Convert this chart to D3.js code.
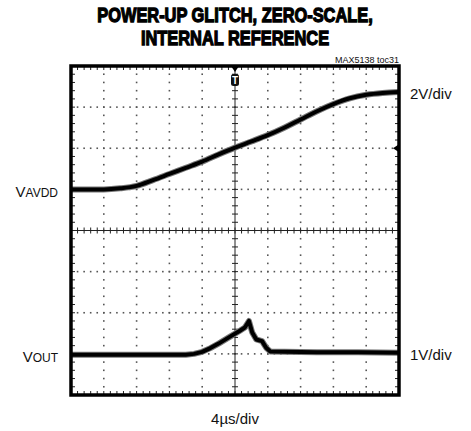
<!DOCTYPE html>
<html>
<head>
<meta charset="utf-8">
<script src="https://cdn.jsdelivr.net/npm/d3@7"></script>
<style>
  body { margin: 0; background: #fff; }
  text { font-family: "Liberation Sans Narrow", "Arial Narrow", "Liberation Sans", sans-serif; fill: #111; }
</style>
</head>
<body>
<svg id="chart" width="471" height="431"></svg>
<script>
// scope capture, values
var titleLines = ["POWER-UP GLITCH, ZERO-SCALE,", "INTERNAL REFERENCE"];
var tocLabel = "MAX5138 toc31";

// VAVDD trace, 2V/div (time in us)
var avddTime  = [0, 2, 4, 6, 8, 10, 12, 14, 16, 18, 20, 22, 24, 26, 28, 30, 32, 34, 36, 38, 40];
var avddVolts = [0, 0, 0, 0.05, 0.17, 0.45, 0.75, 1.05, 1.35, 1.7, 2.03, 2.33, 2.64, 3.0, 3.4, 3.8, 4.15, 4.43, 4.6, 4.69, 4.73];

// VOUT trace, 1V/div
var outTime  = [0, 4, 8, 12, 14, 15, 16, 17, 18, 19.4, 20.5, 21.2, 21.7, 22.1, 22.6, 23.3, 23.8, 24.3, 26, 30, 35, 40];
var outVolts = [-0.02, -0.02, -0.02, -0.02, -0.02, 0.0, 0.05, 0.14, 0.25, 0.42, 0.55, 0.64, 0.8, 0.52, 0.35, 0.31, 0.15, 0.06, 0.05, 0.04, 0.04, 0.03];

var timeDiv = 4, nDivX = 10, nDivY = 8, nMinor = 5;

var svg = d3.select("#chart");

var pLeft = 71, pRight = 399, pTop = 66, pBottom = 395;

var x = d3.scaleLinear()
    .domain([0, timeDiv * nDivX])
    .range([pLeft, pRight]);

// screen divisions, 0 at bottom
var yDiv = d3.scaleLinear()
    .domain([0, nDivY])
    .range([pBottom, pTop]);

// channel scales: 2V/div ground 5 div up, 1V/div ground 1 div up
var y1 = d3.scaleLinear().domain([-10, 6]).range([pBottom, pTop]);
var y2 = d3.scaleLinear().domain([-1, 7]).range([pBottom, pTop]);

var minorX = d3.range(0, nDivX * nMinor + 1).map(function(i) { return i * timeDiv / nMinor; });
var minorY = d3.range(0, nDivY * nMinor + 1).map(function(i) { return i / nMinor; });

// dotted graticule
var grid = svg.append("g").attr("fill", "#555");
d3.range(1, nDivY).forEach(function(r) {
  if (r == nDivY / 2) return;
  grid.selectAll(null)
      .data(minorX.slice(1, -1))
    .enter().append("rect")
      .attr("x", function(d) { return x(d) - 0.8; })
      .attr("y", yDiv(r) - 0.8)
      .attr("width", 1.6)
      .attr("height", 1.6);
});
d3.range(1, nDivX).forEach(function(c) {
  if (c == nDivX / 2) return;
  grid.selectAll(null)
      .data(minorY.slice(1, -1))
    .enter().append("rect")
      .attr("x", x(c * timeDiv) - 0.8)
      .attr("y", function(d) { return yDiv(d) - 0.8; })
      .attr("width", 1.6)
      .attr("height", 1.6);
});

// center axes with ticks
var cx = x(timeDiv * nDivX / 2), cy = yDiv(nDivY / 2);
var axes = svg.append("g").attr("stroke", "#222").attr("stroke-width", 1);
axes.append("line")
    .attr("x1", pLeft).attr("x2", pRight)
    .attr("y1", cy).attr("y2", cy);
axes.append("line")
    .attr("x1", cx).attr("x2", cx)
    .attr("y1", pTop).attr("y2", pBottom);
axes.selectAll(".tx")
    .data(minorX)
  .enter().append("line")
    .attr("x1", function(d) { return x(d); })
    .attr("x2", function(d) { return x(d); })
    .attr("y1", cy - 3)
    .attr("y2", cy + 3);
axes.selectAll(".ty")
    .data(minorY)
  .enter().append("line")
    .attr("y1", function(d) { return yDiv(d); })
    .attr("y2", function(d) { return yDiv(d); })
    .attr("x1", cx - 3)
    .attr("x2", cx + 3);

// border ticks
var bt = svg.append("g").attr("stroke", "#222").attr("stroke-width", 1);
minorX.forEach(function(d) {
  bt.append("line").attr("x1", x(d)).attr("x2", x(d)).attr("y1", pTop).attr("y2", pTop + 4);
  bt.append("line").attr("x1", x(d)).attr("x2", x(d)).attr("y1", pBottom).attr("y2", pBottom - 4);
});
minorY.forEach(function(d) {
  bt.append("line").attr("y1", yDiv(d)).attr("y2", yDiv(d)).attr("x1", pLeft).attr("x2", pLeft + 4);
  bt.append("line").attr("y1", yDiv(d)).attr("y2", yDiv(d)).attr("x1", pRight).attr("x2", pRight - 4);
});

// traces
var line1 = d3.line()
    .x(function(d, i) { return x(avddTime[i]); })
    .y(function(d) { return y1(d); })
    .curve(d3.curveMonotoneX);
var line2 = d3.line()
    .x(function(d, i) { return x(outTime[i]); })
    .y(function(d) { return y2(d); });

[[avddVolts, line1], [outVolts, line2]].forEach(function(p) {
  svg.append("path")
      .datum(p[0])
      .attr("d", p[1])
      .attr("fill", "none")
      .attr("stroke", "#777")
      .attr("stroke-width", 6)
      .attr("stroke-linejoin", "round");
  svg.append("path")
      .datum(p[0])
      .attr("d", p[1])
      .attr("fill", "none")
      .attr("stroke", "#000")
      .attr("stroke-width", 4)
      .attr("stroke-linejoin", "round");
});

// frame
svg.append("rect")
    .attr("x", pLeft).attr("y", pTop)
    .attr("width", pRight - pLeft).attr("height", pBottom - pTop)
    .attr("fill", "none")
    .attr("stroke", "#000")
    .attr("stroke-width", 3.5);

// trigger markers
svg.append("path")
    .attr("d", "M" + (cx - 4) + "," + pTop + "L" + (cx + 4) + "," + pTop + "L" + cx + "," + (pTop + 6) + "Z")
    .attr("fill", "#000");
svg.append("rect")
    .attr("x", cx - 4).attr("y", pTop + 8)
    .attr("width", 8).attr("height", 12)
    .attr("rx", 2.5)
    .attr("fill", "#111");
svg.append("text")
    .attr("x", cx).attr("y", pTop + 18)
    .attr("text-anchor", "middle")
    .style("font-size", "10px")
    .style("font-weight", "bold")
    .style("fill", "#fff")
    .text("T");
var trigY = y1(2);
svg.append("path")
    .attr("d", "M" + (pRight - 6) + "," + trigY + "L" + pRight + "," + (trigY - 4) + "L" + pRight + "," + (trigY + 4) + "Z")
    .attr("fill", "#000");

// title, squeezed to look condensed
svg.append("g")
    .attr("transform", "translate(235,0) scale(0.8,1)")
  .selectAll("text")
    .data(titleLines)
  .enter().append("text")
    .attr("x", 0)
    .attr("y", function(d, i) { return 22 + i * 23; })
    .attr("text-anchor", "middle")
    .style("font-size", "20.5px")
    .style("font-weight", "bold")
    .style("stroke", "#000")
    .style("stroke-width", 1.3)
    .style("fill", "#000")
    .text(function(d) { return d; });

svg.append("text")
    .attr("x", pRight)
    .attr("y", 63)
    .attr("text-anchor", "end")
    .style("font-size", "9px")
    .text(tocLabel);

// channel labels
function chLabel(y, sub) {
  var t = svg.append("text")
      .attr("x", 58)
      .attr("y", y)
      .attr("text-anchor", "end")
      .style("font-size", "15px");
  t.append("tspan").text("V");
  t.append("tspan").style("font-size", "12px").text(sub);
}
chLabel(197, "AVDD");
chLabel(362, "OUT");

svg.append("text").attr("x", 410).attr("y", 99).style("font-size", "15px").text("2V/div");
svg.append("text").attr("x", 410).attr("y", 360).style("font-size", "15px").text("1V/div");
svg.append("text").attr("x", 235).attr("y", 424).attr("text-anchor", "middle").style("font-size", "15px").text("4\u00b5s/div");
</script>
</body>
</html>
